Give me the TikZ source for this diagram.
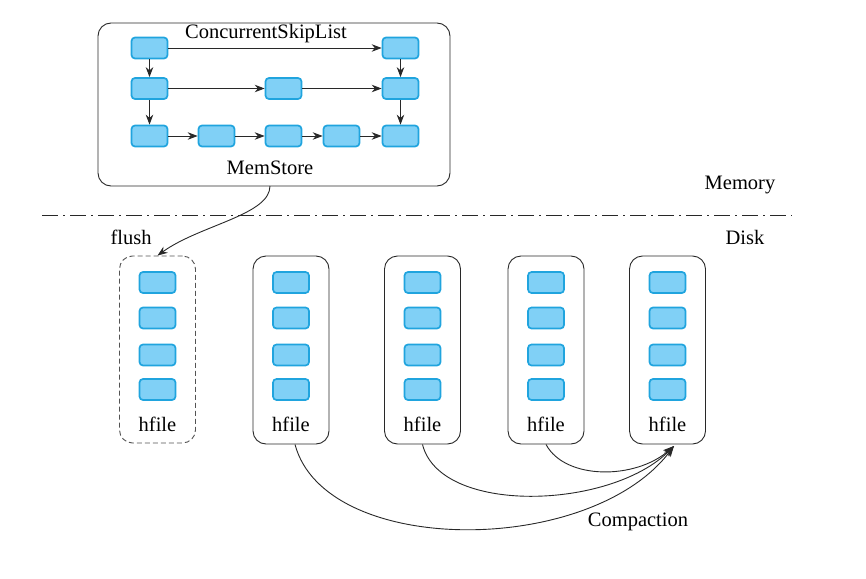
\documentclass[tikz,border=0pt]{standalone}
\usepackage{fontspec}
\setmainfont{Liberation Serif}
\usetikzlibrary{arrows.meta}
\definecolor{bfill}{RGB}{128,208,246}
\definecolor{bdraw}{RGB}{32,164,222}
\definecolor{ln}{RGB}{40,40,40}
\tikzset{
  cell/.style={draw=bdraw,fill=bfill,line width=1.7pt,rounded corners=3.5pt,minimum width=36pt,minimum height=21pt,inner sep=0pt},
  outer/.style={draw=ln,line width=0.9pt,rounded corners=13pt,inner sep=0pt},
  lbl/.style={font=\fontsize{20.5}{24}\selectfont,text=black,inner sep=0pt},
  arr/.style={draw=ln,line width=0.9pt,-{Stealth[length=10pt,width=7.5pt]}},
  carr/.style={draw=ln,line width=0.9pt,-{Stealth[length=11pt,width=8pt]}},
}
\begin{document}
\begin{tikzpicture}[x=1pt,y=-1pt]
\useasboundingbox (0,0) rectangle (866,578);
% MemStore
\node[outer,minimum width=352pt,minimum height=163pt] (ms) at (274,104.5) {};
\node[lbl] (csl) at (266,34) {ConcurrentSkipList};
\node[lbl] (mst) at (270,168) {MemStore};
\foreach \n/\x/\y in {a1/149.5/48, a5/400.5/48, b1/149.5/88.5, b3/283.5/88.5, b5/400.5/88.5,
  c1/149.5/136, c2/216.5/136, c3/283.5/136, c4/341.5/136, c5/400.5/136}
  \node[cell] (\n) at (\x,\y) {};
\draw[arr] (a1) -- (a5);
\draw[arr] (a1) -- (b1);
\draw[arr] (b1) -- (c1);
\draw[arr] (b1) -- (b3);
\draw[arr] (b3) -- (b5);
\draw[arr] (a5) -- (b5);
\draw[arr] (b5) -- (c5);
\draw[arr] (c1) -- (c2);
\draw[arr] (c2) -- (c3);
\draw[arr] (c3) -- (c4);
\draw[arr] (c4) -- (c5);
% separator
\coordinate (sl) at (42,215);
\coordinate (sr) at (792,215);
\draw[ln,line width=0.9pt,dash pattern=on 16pt off 5pt on 2pt off 5pt] (sl) -- (sr);
\node[lbl] (mem) at (740,185) {Memory};
\node[lbl] (disk) at (745,237) {Disk};
% hfiles
\node[outer,dashed,draw=ln!80,minimum width=76pt,minimum height=187pt,dash pattern=on 5pt off 3pt] (h1) at (157.5,349.5) {};
\foreach \i/\x in {2/291,3/422.5,4/546,5/667.5}
  \node[outer,minimum width=76pt,minimum height=188pt] (h\i) at (\x,350) {};
\foreach \i/\x in {1/157.5,2/291,3/422.5,4/546,5/667.5}{
  \node[cell] (h\i a) at (\x,282.5) {};
  \node[cell] (h\i b) at (\x,318) {};
  \node[cell] (h\i c) at (\x,355) {};
  \node[cell] (h\i d) at (\x,389.5) {};
  \node[lbl] (h\i t) at (\x,424) {hfile};
}
% flush
\node[lbl] (fl) at (131,237) {flush};
\coordinate (fs) at (270,186);
\draw[arr] (fs) .. controls (270,215) and (200,225) .. (h1.north);
% compaction
\coordinate (ce) at (674,446);
\draw[carr] (h2.south) ++(4,0) coordinate (s2) .. controls (325,557) and (590,557) .. (ce);
\draw[carr] (h3.south) .. controls (440,515) and (610,510) .. (ce);
\draw[carr] (h4.south) .. controls (565,480) and (635,480) .. (ce);
\node[lbl] (cp) at (638,522) {Compaction};
\end{tikzpicture}
\end{document}
